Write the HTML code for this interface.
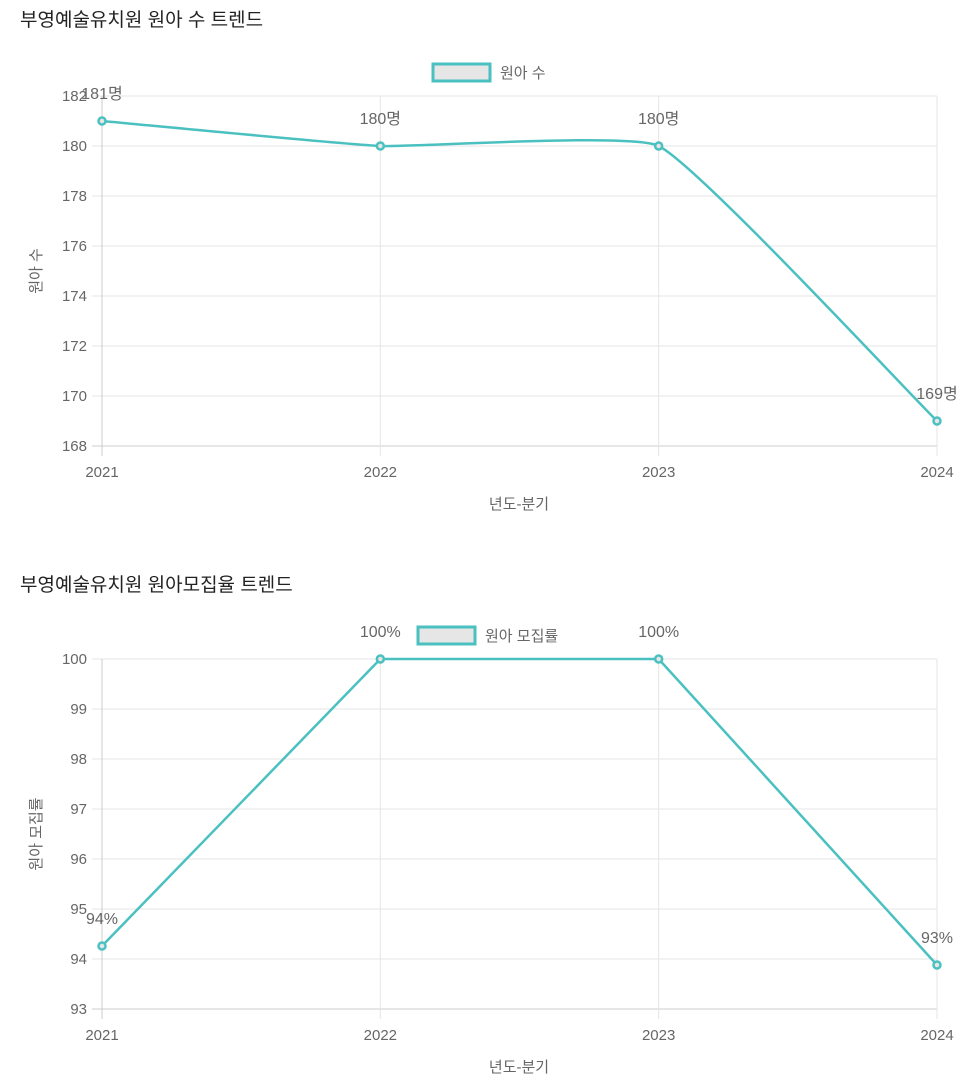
<!DOCTYPE html>
<html><head><meta charset="utf-8">
<style>
html,body{margin:0;padding:0;background:#fff;width:966px;height:1088px;overflow:hidden}
svg{display:block;font-family:"Liberation Sans","Noto Sans CJK KR",sans-serif}
</style></head>
<body>
<svg id="svg" width="966" height="1088">
<text x="20" y="26" font-size="19" fill="#222">부영예술유치원 원아 수 트렌드</text>
<text x="20" y="591" font-size="19" fill="#222">부영예술유치원 원아모집율 트렌드</text>
</svg>
<script>
const categories = ["2021","2022","2023","2024"];
const enrollValues = [181,180,180,169];
const enrollTicks = [168,170,172,174,176,178,180,182];
const rateValues = [94.26,100,100,93.88];
const rateTicks = [93,94,95,96,97,98,99,100];

const NS="http://www.w3.org/2000/svg";
const svg=document.getElementById('svg');
function mk(tag,attrs,parent){const e=document.createElementNS(NS,tag);for(const k in attrs)e.setAttribute(k,attrs[k]);(parent||svg).appendChild(e);return e;}

function drawChart(o){
  const g=mk('g',{});
  
  
  const L=102,R=937,T=o.top,B=o.top+350;
  const n=categories.length;
  const xs=i=>L+(R-L)*i/(n-1);
  const ymin=o.ticks[0],ymax=o.ticks[o.ticks.length-1];
  const ys=v=>B-(v-ymin)/(ymax-ymin)*(B-T);
  o.ticks.forEach(t=>{
    const y=ys(t);
    const ln=mk('line',{x1:92,x2:R,y1:y,y2:y,stroke:t===ymin?'#ccc':'#e5e5e5','stroke-width':1},g);
    
    
    const tx=mk('text',{x:87,y:y+5,'text-anchor':'end','font-size':15,fill:'#666'},g);
    tx.textContent=t;
    
    
  });
  categories.forEach((c,i)=>{
    const x=xs(i);
    const ln=mk('line',{x1:x,x2:x,y1:T,y2:B+10,stroke:i===0?'#ccc':'#e5e5e5','stroke-width':1},g);
    
    
    const tx=mk('text',{x:x,y:B+31,'text-anchor':'middle','font-size':15,fill:'#666'},g);
    tx.textContent=c;
    
    
  });
  const xt=mk('text',{x:519,y:B+63,'text-anchor':'middle','font-size':15,fill:'#666'},g);
  xt.textContent='년도-분기';
  
  
  const yt=mk('text',{x:0,y:0,'text-anchor':'middle','font-size':15,fill:'#666',transform:`translate(41,${(T+B)/2}) rotate(-90)`},g);
  yt.textContent=o.yTitle;
  
  
  const lb=mk('rect',{x:o.legX,y:o.legY,width:57,height:17,fill:'#e6e6e6',stroke:'#4bc0c0','stroke-width':3},g);
  
  
  const lt=mk('text',{x:o.legX+67,y:o.legY+14,'font-size':15,fill:'#666'},g);
  lt.textContent=o.legend;
  
  
  const pts=o.values.map((v,i)=>({x:xs(i),y:ys(v)}));
  let d='M'+pts[0].x+','+pts[0].y;
  if(o.tension>0){
    const cps=pts.map((p,i)=>{
      const pr=pts[Math.max(0,i-1)],nx=pts[Math.min(n-1,i+1)];
      const d01=Math.hypot(p.x-pr.x,p.y-pr.y),d12=Math.hypot(nx.x-p.x,nx.y-p.y);
      let s01=d01/(d01+d12),s12=d12/(d01+d12);
      if(isNaN(s01))s01=0;if(isNaN(s12))s12=0;
      const fa=o.tension*s01,fb=o.tension*s12;
      const cl=v=>Math.max(T,Math.min(B,v));
      return {px:p.x-fa*(nx.x-pr.x),py:cl(p.y-fa*(nx.y-pr.y)),nx:p.x+fb*(nx.x-pr.x),ny:cl(p.y+fb*(nx.y-pr.y))};
    });
    for(let i=1;i<n;i++)d+=` C${cps[i-1].nx},${cps[i-1].ny} ${cps[i].px},${cps[i].py} ${pts[i].x},${pts[i].y}`;
  } else {
    for(let i=1;i<n;i++)d+=` L${pts[i].x},${pts[i].y}`;
  }
  const path=mk('path',{d:d,fill:'none',stroke:'#4bc0c0','stroke-width':2.5},g);
  
  
  pts.forEach((p,i)=>{
    const c=mk('circle',{cx:p.x,cy:p.y,r:3.5,fill:'#e6e6e6',stroke:'#4bc0c0','stroke-width':2.5},g);
    
    
    const t=mk('text',{x:p.x,y:p.y-22,'text-anchor':'middle','font-size':16,fill:'#666'},g);
    t.textContent=Math.floor(o.values[i])+o.suffix;
    
    
  });
}
drawChart({id:'enrollment',values:enrollValues,ticks:enrollTicks,top:96,yTitle:'원아 수',legend:'원아 수',legX:433,legY:64,suffix:'명',tension:0.12});
drawChart({id:'recruit-rate',values:rateValues,ticks:rateTicks,top:659,yTitle:'원아 모집률',legend:'원아 모집률',legX:418,legY:627,suffix:'%',tension:0});
</script>
</body></html>
